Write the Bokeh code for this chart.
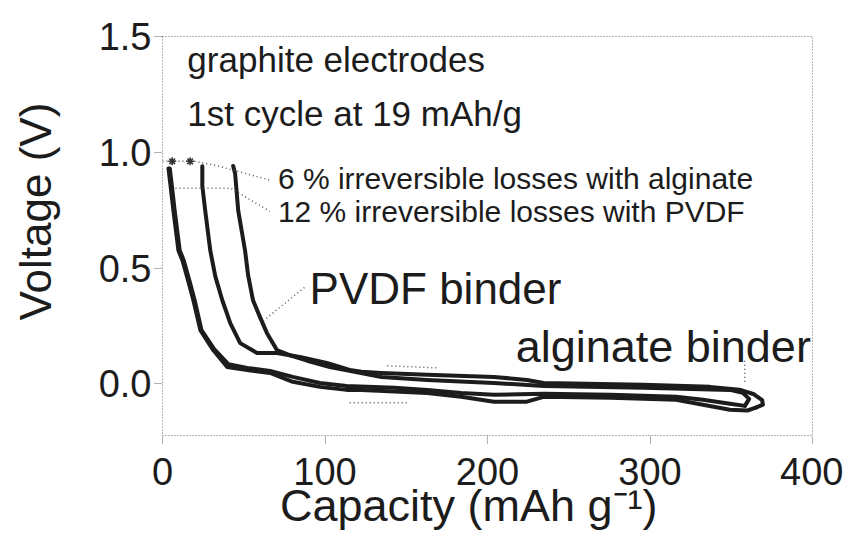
from bokeh.plotting import figure
from bokeh.models import Range1d, Label, FixedTicker
from bokeh.embed import file_html
from bokeh.resources import INLINE

# ---------------- data ----------------
x_ticks = [0, 100, 200, 300, 400]
y_ticks = [0.0, 0.5, 1.0, 1.5]
y_tick_labels = {0.0: "0.0", 0.5: "0.5", 1.0: "1.0", 1.5: "1.5"}
x_title = "Capacity (mAh g\u207b\u00b9)"
y_title = "Voltage (V)"

# first discharge, alginate binder (capacity mAh/g, voltage V)
dis_alg_cap = [3.7, 5.2, 6.7, 9.8, 12.3, 16.0, 19.0, 23.3, 31.2, 39.8, 52.1, 66.2, 80.2, 96.8,
               113.3, 122.5, 162.9, 183.8, 204.0, 224.2, 234.6, 275.7, 316.1, 332.6, 349.2, 360.0, 365.1]
dis_alg_v = [0.930, 0.840, 0.748, 0.576, 0.533, 0.440, 0.361, 0.232, 0.146, 0.073, 0.060, 0.047, 0.009, -0.013,
             -0.026, -0.026, -0.039, -0.056, -0.077, -0.077, -0.056, -0.060, -0.069, -0.090, -0.112, -0.115, -0.103]

# first charge, alginate binder
chg_alg_cap = [365.1, 369.5, 369.0, 364.0, 355.0, 336.9, 295.9, 234.6, 224.2, 204.0, 162.9, 134.8, 122.5,
               115.2, 101.1, 84.5, 70.4, 58.2, 47.8, 41.7, 36.8, 32.5, 29.4, 26.3, 24.5, 24.5]
chg_alg_v = [-0.103, -0.090, -0.070, -0.045, -0.025, -0.013, -0.004, 0.004, 0.017, 0.030, 0.039, 0.047, 0.052,
             0.060, 0.090, 0.116, 0.133, 0.133, 0.176, 0.262, 0.361, 0.464, 0.576, 0.748, 0.855, 0.940]

# first discharge, PVDF binder
dis_pvdf_cap = [4.5, 6.0, 7.5, 10.6, 13.1, 16.8, 19.8, 24.0, 31.8, 40.5, 52.1, 66.2, 80.2, 96.8,
                113.3, 142.7, 162.9, 183.8, 204.0, 234.6, 275.7, 316.1, 332.6, 349.2, 358.4]
dis_pvdf_v = [0.930, 0.840, 0.748, 0.576, 0.533, 0.440, 0.361, 0.232, 0.150, 0.085, 0.069, 0.056, 0.030, 0.004,
              -0.009, -0.017, -0.026, -0.039, -0.047, -0.043, -0.047, -0.056, -0.069, -0.086, -0.095]

# first charge, PVDF binder
chg_pvdf_cap = [358.4, 361.0, 357.1, 349.2, 295.9, 234.6, 204.0, 162.9, 134.8, 118.2, 103.0, 89.0,
                79.0, 70.4, 64.3, 60.0, 55.7, 52.7, 50.8, 46.6, 44.7, 43.5]
chg_pvdf_v = [-0.095, -0.065, -0.039, -0.026, -0.017, -0.009, 0.004, 0.017, 0.030, 0.052, 0.073, 0.100,
              0.122, 0.146, 0.219, 0.288, 0.361, 0.468, 0.576, 0.748, 0.907, 0.941]

# dotted leader lines and small marks
lead1_cap = [0.0, 20.0, 33.0, 66.0]
lead1_v = [0.961, 0.961, 0.943, 0.880]
lead2_cap = [8.0, 42.0, 66.0]
lead2_v = [0.845, 0.845, 0.745]
lead_pvdf_cap = [62.0, 88.0]
lead_pvdf_v = [0.272, 0.420]
lead_alg_cap = [358.3, 358.3]
lead_alg_v = [0.10, 0.0]
mark_cap = [6.0, 17.0]
mark_v = [0.961, 0.961]
seg_up_cap = [138.4, 169.1]
seg_up_v = [0.078, 0.069]
seg_lo_cap = [115.2, 150.7]
seg_lo_v = [-0.082, -0.082]

FONT = "Liberation Sans"
INK = "#1c1c1c"
NBSP = "\u00a0"

p = figure(width=843, height=542, output_backend="svg", toolbar_location=None,
           x_range=Range1d(0, 400), y_range=Range1d(-0.223, 1.5),
           min_border_left=162, min_border_right=31, min_border_top=36, min_border_bottom=107)

p.background_fill_color = "white"
p.border_fill_color = "white"
p.outline_line_color = "#666666"
p.outline_line_dash = "1 2"
p.outline_line_width = 1
p.xgrid.visible = False
p.ygrid.visible = False

p.xaxis.ticker = FixedTicker(ticks=x_ticks)
p.yaxis.ticker = FixedTicker(ticks=y_ticks)
p.yaxis.major_label_overrides = y_tick_labels
for ax in (p.xaxis[0], p.yaxis[0]):
    ax.axis_line_color = None
    ax.major_tick_line_color = "#666666"
    ax.major_tick_line_dash = "1 1"
    ax.major_tick_out = 8
    ax.major_tick_in = 0
    ax.minor_tick_line_color = None
    ax.major_label_text_font = FONT
    ax.major_label_text_font_size = "38px"
    ax.major_label_text_color = INK
    ax.axis_label_text_font = FONT
    ax.axis_label_text_font_style = "normal"
    ax.axis_label_text_color = INK

# axis titles (non-breaking spaces shift them off-centre as in the original)
p.xaxis.axis_label = x_title + NBSP * 3
p.xaxis.axis_label_text_font_size = "45px"
p.xaxis.major_label_standoff = 14
p.xaxis.axis_label_standoff = -8
p.yaxis.axis_label = NBSP * 4 + y_title
p.yaxis.axis_label_text_font_size = "44px"
p.yaxis.major_label_standoff = 3
p.yaxis.axis_label_standoff = 36

# curves
for cx, cy in ((dis_alg_cap, dis_alg_v), (chg_alg_cap, chg_alg_v),
               (dis_pvdf_cap, dis_pvdf_v), (chg_pvdf_cap, chg_pvdf_v)):
    p.line(cx, cy, line_color=INK, line_width=4, line_join="round", line_cap="round")

# dotted leaders
for cx, cy in ((lead1_cap, lead1_v), (lead2_cap, lead2_v), (lead_pvdf_cap, lead_pvdf_v),
               (lead_alg_cap, lead_alg_v), (seg_up_cap, seg_up_v), (seg_lo_cap, seg_lo_v)):
    p.line(cx, cy, line_color="#555555", line_width=1.5, line_dash="1 3")
p.scatter(mark_cap, mark_v, marker="asterisk", size=8, line_color="#333333", line_width=1.5)


def lab(x, y, t, size, align="left"):
    p.add_layout(Label(x=x, y=y, text=t, text_font=FONT, text_font_size=size,
                       text_color=INK, text_align=align, text_baseline="alphabetic"))


lab(15.3, 1.40, "graphite electrodes", "35px")
lab(15.3, 1.168, "1st cycle at 19 mAh/g", "35px")
lab(71.0, 0.887, "6 % irreversible losses with alginate", "30px")
lab(71.0, 0.745, "12 % irreversible losses with PVDF", "30px")
lab(90.5, 0.41, "PVDF binder", "44px")
lab(399.0, 0.16, "alginate binder", "45px", align="right")

open("out.html", "w").write(file_html(p, INLINE))
